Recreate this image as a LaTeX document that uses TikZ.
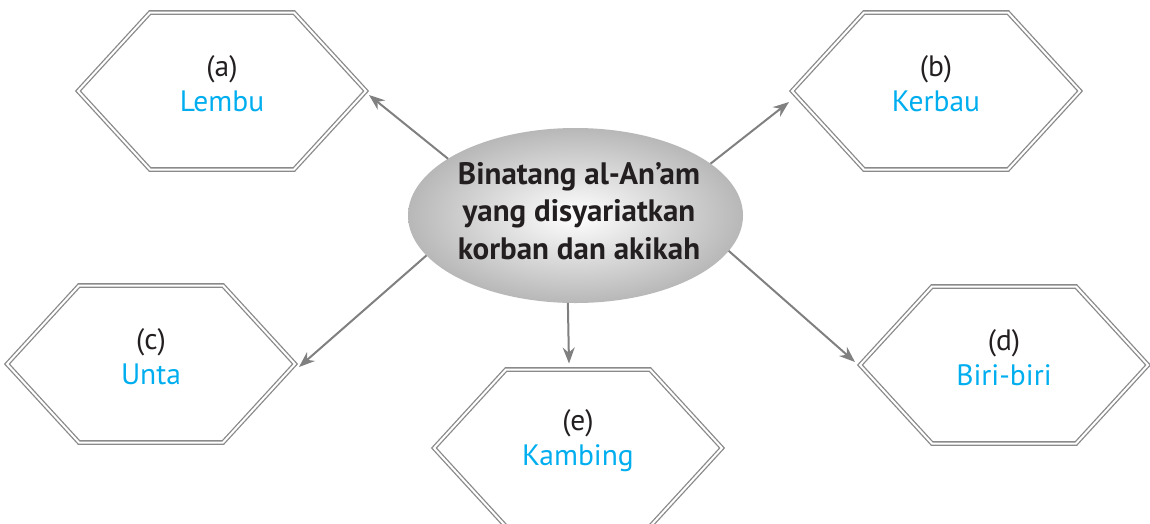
\documentclass[tikz,border=0pt]{standalone}
\usepackage{fontspec}
\setmainfont{PT Sans}
\usetikzlibrary{arrows.meta,shapes.geometric,calc}
\definecolor{linegray}{HTML}{808080}
\definecolor{hexgray}{HTML}{8A8A8A}
\definecolor{txtblue}{HTML}{00AEEF}
\definecolor{txtblack}{HTML}{231F20}
\begin{document}
\begin{tikzpicture}[x=1pt,y=-1pt,
  hexline/.style={draw=hexgray,line width=1.3pt,double=white,double distance=2pt,line join=miter},
  hexpic/.pic={
    \draw[hexline] (-144,0) -- (-72,-78.5) -- (72,-78.5) -- (144,0) -- (72,78.5) -- (-72,78.5) -- cycle;
    \coordinate (-L) at (-144,0);
    \coordinate (-R) at (144,0);
    \coordinate (-T) at (0,-78.5);
  },
  hextext/.style={font=\fontsize{29.5}{35}\selectfont, text=txtblack, align=center, inner sep=0pt},
  centertext/.style={font=\bfseries\fontsize{31}{37.5}\selectfont, text=txtblack, align=center, inner sep=0pt},
  arrowline/.style={draw=linegray, line width=2pt, -{Stealth[length=16pt,width=12pt]}},
]
\useasboundingbox (0,0) rectangle (1150,523);
\clip (0,0) rectangle (1150,523);

\pic (ha) at (222,91) {hexpic};
\pic (hb) at (936,91) {hexpic};
\pic (hc) at (151,364) {hexpic};
\pic (hd) at (1004,365) {hexpic};
\pic (he) at (578,448) {hexpic};

\node[hextext] (ta) at (222,84) {(a)\\\textcolor{txtblue}{Lembu}};
\node[hextext] (tb) at (936,84) {(b)\\\textcolor{txtblue}{Kerbau}};
\node[hextext] (tc) at (151,357) {(c)\\\textcolor{txtblue}{Unta}};
\node[hextext] (td) at (1004,358) {(d)\\\textcolor{txtblue}{Biri-biri}};
\node[hextext] (te) at (578,441) {(e)\\\textcolor{txtblue}{Kambing}};

\node[ellipse, minimum width=335pt, minimum height=175pt, inner sep=0pt, outer sep=0pt,
      shading=radial, inner color=white, outer color=black!28] (ell) at (575.5,215.5) {};
\node[centertext] (ct) at (579,211) {Binatang al-An’am\\yang disyariatkan\\korban dan akikah};

\draw[arrowline] (ell.156) -- ($(ha-R)+(3,4)$);
\draw[arrowline] (ell.21) -- ($(hb-L)+(-3,11)$);
\draw[arrowline] (ell.195) -- ($(hc-R)+(4,3)$);
\draw[arrowline] (ell.347) -- ($(hd-L)+(-5,-3)$);
\draw[arrowline] (ell.265) -- ($(he-T)+(-9,-6)$);
\end{tikzpicture}
\end{document}
